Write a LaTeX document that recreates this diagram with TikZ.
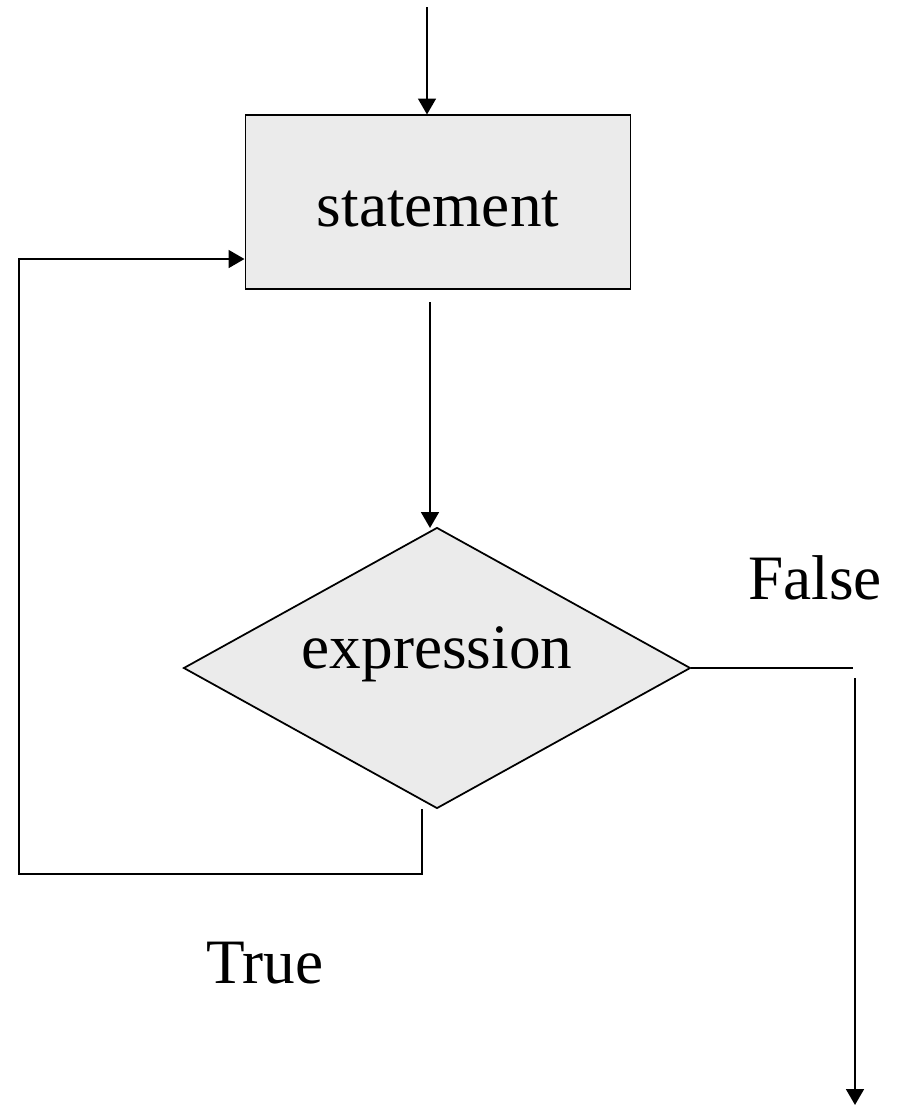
\documentclass[tikz,border=0pt]{standalone}
\usepackage{fontspec}
\setmainfont{Liberation Serif}
\usepackage{tikz}
\usetikzlibrary{shapes.geometric,arrows.meta}
\definecolor{boxgray}{HTML}{EBEBEB}
\tikzset{
    process-box/.style = {draw=black, fill=boxgray, line width=0.6pt, rectangle, minimum width=7.72cm, minimum height=3.48cm, inner sep=0pt},
    decision-diamond/.style = {draw=black, fill=boxgray, line width=1pt, diamond, aspect=1.8, minimum width=10.14cm, minimum height=5.62cm, inner sep=0pt},
    flow-line/.style = {line width=1.4pt, -{Triangle[length=9pt,width=10pt]}},
    plain-line/.style = {line width=1.4pt},
    label-text/.style = {font=\fontsize{36}{43}\selectfont},
}

\begin{document}
\begin{tikzpicture}[x=0.02cm, y=-0.02cm]
\useasboundingbox (0,0) rectangle (901,1107);
\node [process-box, label-text] (stmt) at (438,202) {\raisebox{-4pt}[\height][\depth]{statement}};
\node [decision-diamond, label-text] (expr) at (437,668) {\raisebox{8pt}[\height][\depth]{expression}};
\node [label-text] (false) at (815,578) {False};
\node [label-text] (true) at (265,963) {True};

% entry and link
\coordinate (entry) at (427,7);
\draw [flow-line] (entry) -- (entry |- stmt.north);
\coordinate (link) at (430,302);
\draw [flow-line] (link) -- (430,528);

% false branch
\coordinate (f-end) at (853,668);
\draw [plain-line] (expr.east) -- (f-end);
\coordinate (f-start) at (855,678);
\coordinate (exit) at (855,1105);
\draw [flow-line] (f-start) -- (exit);

% true branch, back to statement
\coordinate (t-start) at (422,809);
\coordinate (t-back) at (19,259);
\draw [flow-line] (t-start) -- (422,874) -| (t-back) -- (t-back -| stmt.west);
\end{tikzpicture}
\end{document}
